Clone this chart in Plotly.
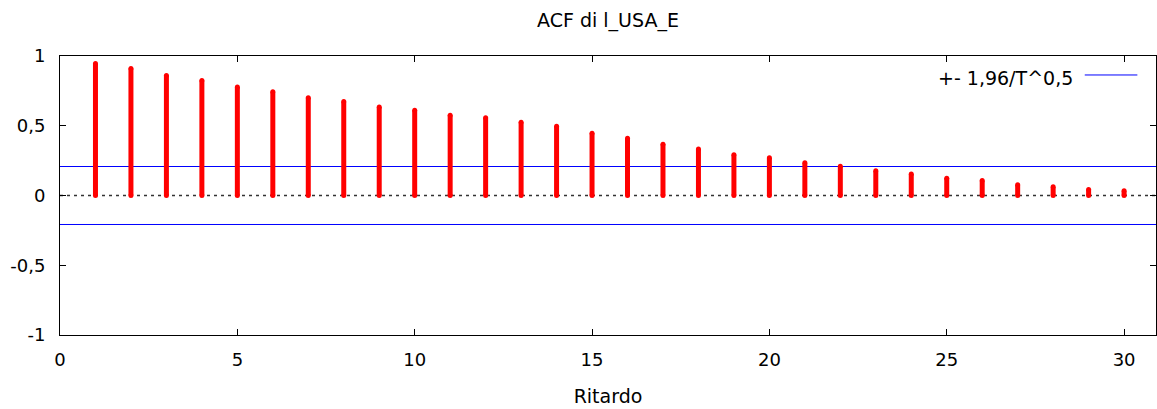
import plotly.graph_objects as go

lags = list(range(1, 31))
acf = [0.947, 0.911, 0.861, 0.825, 0.778, 0.744, 0.701, 0.673, 0.635, 0.611,
       0.575, 0.558, 0.525, 0.496, 0.446, 0.410, 0.367, 0.334, 0.293, 0.270,
       0.234, 0.210, 0.177, 0.155, 0.124, 0.107, 0.077, 0.062, 0.043, 0.034]
band = 0.2078
x_ticks = [0, 5, 10, 15, 20, 25, 30]
y_ticks = [-1, -0.5, 0, 0.5, 1]
y_tick_text = ["-1", "-0,5", "0", "0,5", "1"]
title = "ACF di l_USA_E"
x_title = "Ritardo"
legend_text = "+- 1,96/T^0,5"

FONT = "DejaVu Sans, Verdana, sans-serif"

xs, ys = [], []
for l, v in zip(lags, acf):
    xs += [l, l, None]
    ys += [0, v, None]

fig = go.Figure()
fig.add_trace(go.Scatter(
    x=xs, y=ys, mode="lines+markers",
    line=dict(color="#ff0000", width=5),
    marker=dict(color="#ff0000", size=5, line=dict(width=0)),
    showlegend=False, hoverinfo="skip"))

fig.add_hline(y=0, line=dict(color="#333333", width=1.3, dash="3px,4px"), layer="below")
fig.add_hline(y=band, line=dict(color="#0000ff", width=1), layer="below")
fig.add_hline(y=-band, line=dict(color="#0000ff", width=1), layer="below")

# legend replica: text with sample line on the right
fig.add_annotation(xref="paper", yref="paper", x=0.926, y=0.92, xanchor="right", yanchor="middle",
                   text=legend_text, showarrow=False, font=dict(family=FONT, size=19, color="#000000"))
fig.add_shape(type="line", xref="paper", yref="paper", x0=0.935, x1=0.983, y0=0.932, y1=0.932,
              line=dict(color="#0000ff", width=1))

fig.update_layout(
    width=1157, height=409,
    margin=dict(l=60, r=1, t=56, b=74),
    paper_bgcolor="white", plot_bgcolor="white",
    font=dict(family=FONT, size=18, color="#000000"),
    title=dict(text=title, x=(60 + 1156) / 2 / 1157, xanchor="center", y=1 - 20 / 409, yanchor="middle",
               font=dict(family=FONT, size=19, color="#000000")),
    showlegend=False,
)
fig.update_xaxes(range=[0, 30.9], tickvals=x_ticks, ticktext=[str(t) for t in x_ticks],
                 ticks="inside", ticklen=6, tickcolor="#000000", showline=True, linecolor="#000000",
                 linewidth=1, mirror="ticks", showgrid=False, zeroline=False,
                 ticklabelstandoff=8,
                 title=dict(text=x_title, standoff=21, font=dict(family=FONT, size=19)))
fig.update_yaxes(range=[-1, 1], tickvals=y_ticks, ticktext=y_tick_text,
                 ticks="inside", ticklen=6, tickcolor="#000000", showline=True, linecolor="#000000",
                 linewidth=1, mirror="ticks", showgrid=False, zeroline=False,
                 ticklabelstandoff=10)

fig.write_html("out.html")
